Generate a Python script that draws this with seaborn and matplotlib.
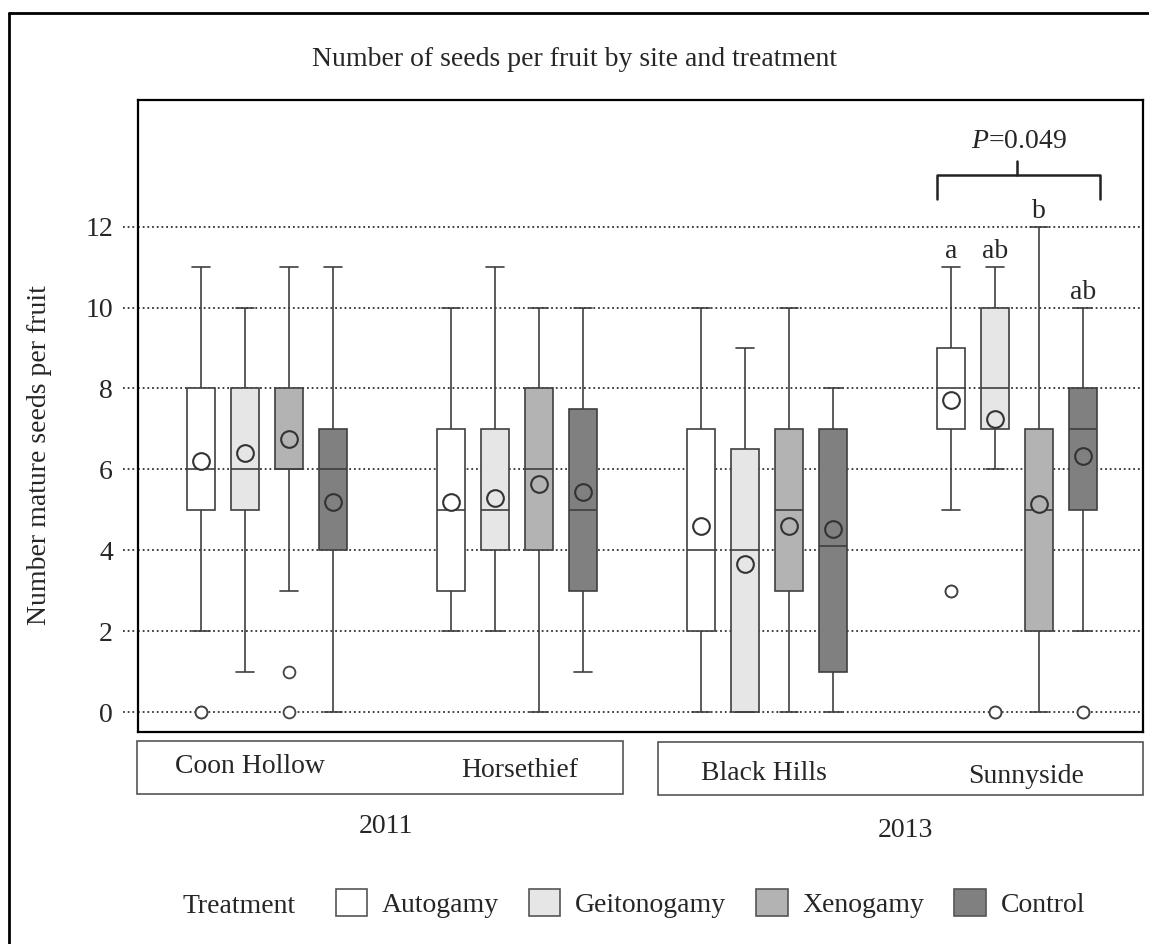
import numpy as np
import pandas as pd
import matplotlib
matplotlib.use("Agg")
import matplotlib.pyplot as plt
import seaborn as sns
from matplotlib.patches import Rectangle, Patch
from matplotlib.lines import Line2D

# ---------------- data ----------------
sites = ["Coon Hollow", "Horsethief", "Black Hills", "Sunnyside"]
years = ["2011", "2013"]
treatments = ["Autogamy", "Geitonogamy", "Xenogamy", "Control"]
colors = ["#FFFFFF", "#E6E6E6", "#B3B3B3", "#808080"]

# one entry per box, site-major, treatment-minor
whisker_low = [2, 1, 3, 0,   2, 2, 0, 1,   0, 0, 0, 0,   5, 6, 0, 2]
q1 =          [5, 5, 6, 4,   3, 4, 4, 3,   2, 0, 3, 1,   7, 7, 2, 5]
median =      [6, 6, 6, 6,   5, 5, 6, 5,   4, 4, 5, 4.1, 8, 8, 5, 7]
q3 =          [8, 8, 8, 7,   7, 7, 8, 7.5, 7, 6.5, 7, 7, 9, 10, 7, 8]
whisker_high = [11, 10, 11, 11, 10, 11, 10, 10, 10, 9, 10, 8, 11, 11, 12, 10]
means = [6.2, 6.4, 6.75, 5.2,  5.2, 5.3, 5.65, 5.45,
         4.6, 3.65, 4.6, 4.52, 7.72, 7.25, 5.15, 6.32]

outlier_site = ["Coon Hollow", "Coon Hollow", "Coon Hollow",
                "Sunnyside", "Sunnyside", "Sunnyside"]
outlier_treatment = ["Autogamy", "Xenogamy", "Xenogamy",
                     "Autogamy", "Geitonogamy", "Control"]
outlier_value = [0, 1, 0, 3, 0, 0]

sig_letters = ["a", "ab", "b", "ab"]   # Sunnyside
p_label = "=0.049"

yticks = [0, 2, 4, 6, 8, 10, 12]

# ---------------- tables for seaborn ----------------
rows = []
k = 0
for s in sites:
    for t in treatments:
        for v in (whisker_low[k], q1[k], median[k], q3[k], whisker_high[k]):
            rows.append((s, t, v))
        k += 1
box_df = pd.DataFrame(rows, columns=["site", "treatment", "seeds"])

mean_df = pd.DataFrame({
    "site": np.repeat(sites, len(treatments)),
    "treatment": treatments * len(sites),
    "seeds": means,
})
out_df = pd.DataFrame({"site": outlier_site, "treatment": outlier_treatment,
                       "seeds": outlier_value})

# ---------------- style ----------------
sns.set_style("white")
plt.rcParams["font.family"] = ["Liberation Serif", "DejaVu Serif"]
plt.rcParams["mathtext.fontset"] = "custom"
plt.rcParams["mathtext.it"] = "Liberation Serif:italic"
plt.rcParams["mathtext.rm"] = "Liberation Serif"
FS = 20
W, H = 1149, 944

fig = plt.figure(figsize=(W / 100, H / 100), dpi=100)
ax = fig.add_axes([138 / W, 1 - 732 / H, (1143 - 138) / W, (732 - 100) / H])

edge = "#3f3f3f"
total_width = 0.704
gap = 0.36

sns.boxplot(data=box_df, x="site", y="seeds", hue="treatment",
            order=sites, hue_order=treatments, palette=colors,
            width=total_width, gap=gap, whis=(0, 100),
            linecolor=edge, linewidth=1.2, legend=False, ax=ax,
            capwidths=0.072)

n = len(treatments)
dodge_span = total_width * (n - 1) / n

sns.pointplot(data=mean_df, x="site", y="seeds", hue="treatment",
              order=sites, hue_order=treatments, palette=colors,
              dodge=dodge_span, linestyle="none", errorbar=None,
              markers="o", markersize=12, markeredgewidth=1.5,
              markeredgecolor="#333333", legend=False, ax=ax, zorder=5)

out_pal = ["#FFFFFF"] * n
for est in ("min", "max"):
    sns.pointplot(data=out_df, x="site", y="seeds", hue="treatment",
                  order=sites, hue_order=treatments, palette=out_pal,
                  estimator=est, dodge=dodge_span, linestyle="none",
                  errorbar=None, markers="o", markersize=8.5,
                  markeredgewidth=1.3, markeredgecolor="#444444",
                  legend=False, ax=ax, zorder=5)

# axes cosmetics
ax.set_xlim(-0.516, 3.504)
ax.set_ylim(-0.49, 15.13)
ax.set_xticks([])
ax.set_yticks(yticks)
ax.set_yticklabels([str(v) for v in yticks], fontsize=FS)
ax.tick_params(axis="y", length=0, pad=18)
ax.set_xlabel("")
ax.set_ylabel("")
ax.yaxis.grid(True, linestyle=(0, (1, 1.6)), color="#333333", linewidth=1.3)
ax.set_axisbelow(True)
for sp in ax.spines.values():
    sp.set_visible(True)
    sp.set_color("black")
    sp.set_linewidth(1.6)
# dotted stubs left of the spine
for v in yticks:
    ax.plot([-0.015, 0], [v, v], transform=ax.get_yaxis_transform(),
            linestyle=(0, (1, 1.6)), color="#333333", linewidth=1.3,
            clip_on=False)

# significance letters and bracket for Sunnyside
offsets = np.linspace(-dodge_span / 2, dodge_span / 2, n)
s_idx = sites.index("Sunnyside")
for j, letter in enumerate(sig_letters):
    ax.text(s_idx + offsets[j], whisker_high[s_idx * n + j] + 0.22, letter,
            ha="center", va="baseline", fontsize=FS)
bx0, bx1, by, bdrop, btop = s_idx - 0.322, s_idx + 0.33, 13.27, 12.68, 13.62
ax.plot([bx0, bx0, bx1, bx1], [bdrop, by, by, bdrop], color="#222222",
        linewidth=1.8, clip_on=False)
ax.plot([s_idx, s_idx], [by, btop], color="#222222", linewidth=1.8)
ax.text(s_idx + 0.01, 13.95, r"$P$" + p_label, ha="center", va="baseline",
        fontsize=FS)

# ---------------- figure-level decorations ----------------
def fx(px):
    return px / W


def fy(py):
    return 1 - py / H


fig.text(fx(574), fy(66), "Number of seeds per fruit by site and treatment",
         ha="center", va="baseline", fontsize=FS)
fig.text(fx(40), fy(455), "Number mature seeds per fruit", rotation=90,
         ha="center", va="center", fontsize=FS)

for (x0, x1, y0, y1) in [(137, 623, 741, 794), (658, 1143, 742, 795)]:
    fig.patches.append(Rectangle((fx(x0), fy(y1)), fx(x1) - fx(x0),
                                 fy(y0) - fy(y1), transform=fig.transFigure,
                                 facecolor="none", edgecolor="#555555",
                                 linewidth=1.2))

site_pos = [(250, 773), (520, 777), (764, 780), (1026, 783)]
for name, (px, py) in zip(sites, site_pos):
    fig.text(fx(px), fy(py), name, ha="center", va="baseline", fontsize=FS)
for yr, (px, py) in zip(years, [(386, 833), (905, 837)]):
    fig.text(fx(px), fy(py), yr, ha="center", va="baseline", fontsize=FS)

# outer frame (left and top edges visible)
fig.add_artist(Line2D([fx(9), fx(9)], [fy(13), 0], transform=fig.transFigure,
                      color="black", linewidth=2))
fig.add_artist(Line2D([fx(9), 1], [fy(13), fy(13)], transform=fig.transFigure,
                      color="black", linewidth=2))

# legend
fig.text(fx(239), fy(913), "Treatment", ha="center", va="baseline",
         fontsize=FS)
handles = [Patch(facecolor=c, edgecolor="#555555", linewidth=1.2)
           for c in colors]
fig.legend(handles, treatments, loc="center left",
           bbox_to_anchor=(fx(336), fy(903.5)), ncol=4, frameon=False,
           handlelength=1.12, handleheight=1.12, handletextpad=0.54,
           columnspacing=1.08, borderpad=0, borderaxespad=0, fontsize=FS)

fig.savefig("out.png", dpi=100)
